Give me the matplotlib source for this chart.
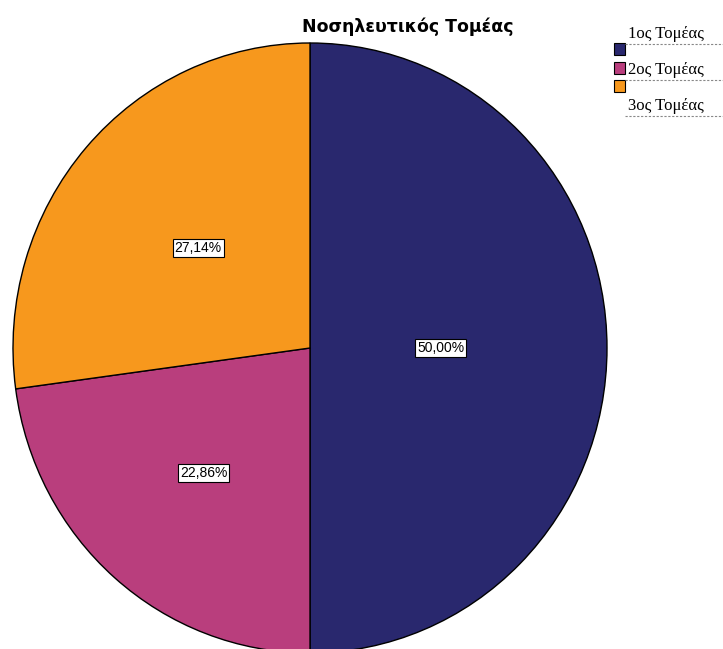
import numpy as np
import matplotlib
matplotlib.use('Agg')
import matplotlib.pyplot as plt
from matplotlib.patches import Rectangle
from matplotlib.lines import Line2D

categories = ['1ος Τομέας', '2ος Τομέας', '3ος Τομέας']
shares = [50.00, 22.86, 27.14]
colors = ['#29286e', '#b93e7d', '#f7981d']
label_radius = [0.44, 0.545, 0.5]

W, H = 723, 649
fig = plt.figure(figsize=(W / 100, H / 100), dpi=100)
# pie is slightly taller than wide and runs off the bottom edge
ax = fig.add_axes([13 / W, -4 / H, 594 / W, 610 / H])

wedges, _ = ax.pie(shares, colors=colors, startangle=90, counterclock=False,
                   radius=1.0, wedgeprops=dict(edgecolor='black', linewidth=1.0))
ax.set_xlim(-1, 1)
ax.set_ylim(-1, 1)
ax.set_aspect('auto')
ax.axis('off')

# percentage labels in white boxes, placed along each wedge's mid angle
for w, val, r in zip(wedges, shares, label_radius):
    mid = np.deg2rad((w.theta1 + w.theta2) / 2)
    txt = f"{val:.2f}%".replace('.', ',')
    ax.text(r * np.cos(mid), r * np.sin(mid), txt, ha='center', va='center',
            fontsize=10, family='Liberation Sans',
            bbox=dict(boxstyle='square,pad=0.15', facecolor='white',
                      edgecolor='black', linewidth=0.8))

fig.text(408 / W, 1 - 27 / H, 'Νοσηλευτικός Τομέας', ha='center', va='center',
         fontsize=12.5, fontweight='bold', family='DejaVu Sans')

# legend: colour swatches with labels on dashed rows
swatch_y = [49, 68, 86]
text_y = [34, 70, 106]
for cat, col, sy, ty in zip(categories, colors, swatch_y, text_y):
    fig.patches.append(Rectangle((614 / W, 1 - (sy + 6) / H), 11 / W, 12 / H,
                                 transform=fig.transFigure, facecolor=col,
                                 edgecolor='black', linewidth=0.8))
    fig.text(628 / W, 1 - ty / H, cat, ha='left', va='center',
             fontsize=12, family='Liberation Serif')
    fig.lines.append(Line2D([625 / W, 723 / W], [1 - (ty + 10) / H] * 2,
                            transform=fig.transFigure, color='#888888',
                            linewidth=0.8, linestyle=(0, (2, 1.5))))

fig.savefig('out.png', dpi=100)
